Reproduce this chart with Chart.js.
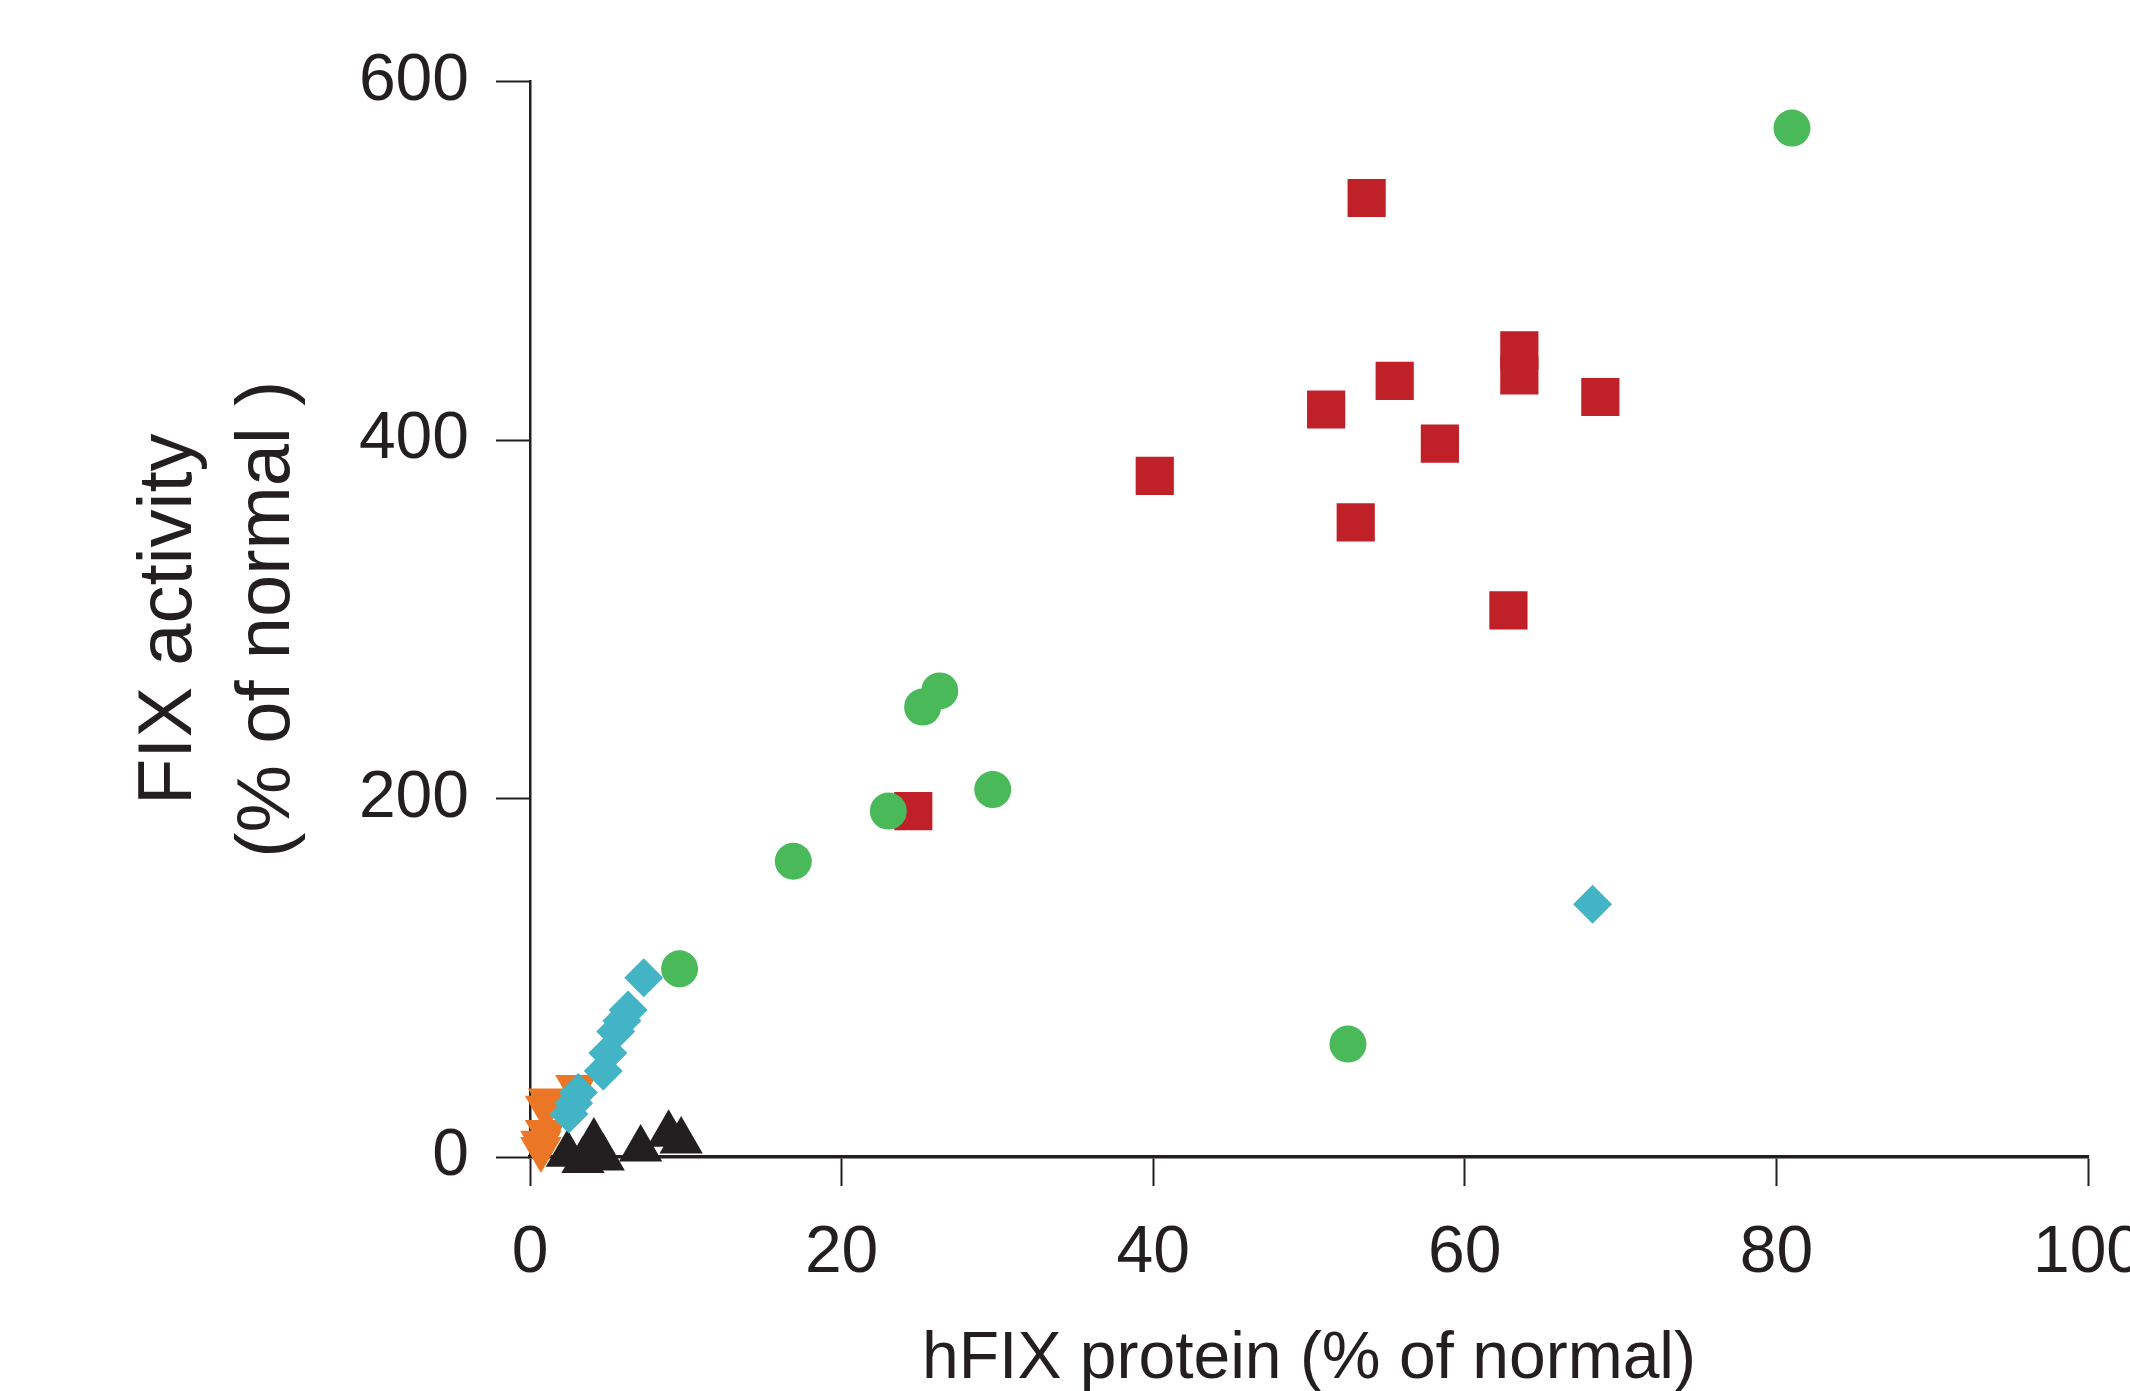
<!DOCTYPE html>
<html>
<head>
<meta charset="utf-8">
<script src="https://cdn.jsdelivr.net/npm/chart.js@4.4.1/dist/chart.umd.min.js"></script>
<style>
  html, body { margin: 0; padding: 0; background: #ffffff; overflow: hidden; }
  #fixChart { display: block; }
</style>
</head>
<body>
<canvas id="fixChart" width="2130" height="1391"></canvas>
<script>
// hFIX protein vs FIX activity

// red squares
const squareX = [53.7, 55.5, 51.1, 68.7, 58.4, 53.0, 62.8, 63.5, 63.5, 40.1, 24.6];
const squareY = [535, 433, 417, 424, 398, 354, 305, 450, 436, 380, 193];
// green circles
const circleX = [81.0, 26.3, 25.2, 29.7, 23.0, 16.9, 9.6, 52.5];
const circleY = [574, 260, 251, 205, 193, 165, 105, 63];
// cyan diamonds
const diamondX = [7.3, 6.3, 5.9, 5.5, 5.0, 4.7, 3.1, 2.8, 2.5, 68.2];
const diamondY = [100, 82, 76, 70, 58, 48, 36, 30, 24, 141];
// orange down triangles
const downX = [2.95, 1.2, 1.0, 1.0, 0.7, 0.7];
const downY = [39, 31.5, 27.5, 14, 8, 4.5];
// black up triangles
const upX = [2.4, 3.4, 4.1, 4.7, 7.1, 8.9, 9.7];
const upY = [1.5, -2, 8.4, -0.6, 4.5, 12.7, 8.9];

const xTicks = [0, 20, 40, 60, 80, 100];
const yTicks = [0, 200, 400, 600];

const ink = '#231F20';
const fontFamily = "'Liberation Sans', Arial, Helvetica, sans-serif";

function pts(xs, ys) {
    return xs.map((x, i) => ({ x: x, y: ys[i] }));
}

function series(xs, ys, color, style, radius, order, rotation) {
    return {
        data: pts(xs, ys),
        backgroundColor: color,
        borderColor: color,
        borderWidth: 0,
        pointStyle: style,
        pointRadius: radius,
        pointHoverRadius: radius,
        pointRotation: rotation || 0,
        order: order,
        clip: false
    };
}

const ctx = document.getElementById('fixChart');
new Chart(ctx.getContext('2d'), {
    type: 'scatter',
    data: {
        datasets: [
            series(squareX, squareY, '#C02027', 'rect', 27, 5),
            series(circleX, circleY, '#4AB95A', 'circle', 18.5, 4),
            series(upX, upY, ink, 'triangle', 25, 3),
            series(downX, downY, '#EB7625', 'triangle', 24, 2, 180),
            series(diamondX, diamondY, '#42B4C5', 'rectRot', 19.5, 1)
        ]
    },
    options: {
        responsive: false,
        animation: false,
        devicePixelRatio: 1,
        layout: { padding: { left: 0, right: 42, top: 81.5, bottom: 0 } },
        plugins: {
            legend: { display: false },
            tooltip: { enabled: false }
        },
        scales: {
            x: {
                type: 'linear',
                min: 0,
                max: 100,
                afterBuildTicks: (scale) => { scale.ticks = xTicks.map(v => ({ value: v })); },
                afterFit: (scale) => {
                    scale.height = 234;
                    scale.paddingLeft = 0;
                    scale.paddingRight = 0;
                },
                border: { display: true, color: ink, width: 3.5 },
                grid: { drawOnChartArea: false, drawTicks: true, tickLength: 29, tickWidth: 2, tickColor: ink },
                ticks: { color: ink, padding: 28, maxRotation: 0, font: { family: fontFamily, size: 66 } },
                title: {
                    display: true,
                    text: 'hFIX protein (% of normal)',
                    color: ink,
                    padding: { top: 0, bottom: 0 },
                    font: { family: fontFamily, size: 66, lineHeight: 0.94 }
                }
            },
            y: {
                type: 'linear',
                min: 0,
                max: 600,
                afterBuildTicks: (scale) => { scale.ticks = yTicks.map(v => ({ value: v })); },
                afterFit: (scale) => {
                    scale.width = 530;
                    scale.paddingTop = 0;
                    scale.paddingBottom = 0;
                },
                border: { display: true, color: ink, width: 2.5 },
                grid: { drawOnChartArea: false, drawTicks: true, tickLength: 34, tickWidth: 2, tickColor: ink },
                ticks: { color: ink, padding: 27, font: { family: fontFamily, size: 66 } },
                title: {
                    display: true,
                    text: ['FIX activity', '(% of normal )'],
                    color: ink,
                    padding: { top: 121, bottom: 0 },
                    font: { family: fontFamily, size: 76, lineHeight: 1.29 }
                }
            }
        }
    }
});
</script>
</body>
</html>
